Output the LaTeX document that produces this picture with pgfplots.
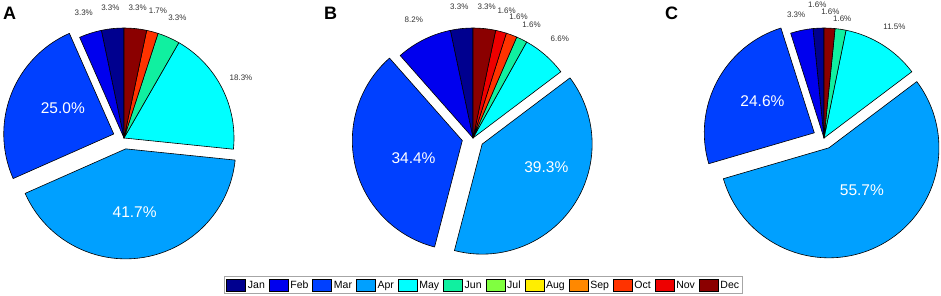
\documentclass[border=0pt]{standalone}
\usepackage{fontspec}
\setmainfont{Liberation Sans}
\usepackage{pgfplots}
\usepackage{pgfplotstable}
\pgfplotsset{compat=1.18}

\definecolor{c1}{HTML}{00008F}
\definecolor{c2}{HTML}{0000EE}
\definecolor{c3}{HTML}{0040FF}
\definecolor{c4}{HTML}{00A0FF}
\definecolor{c5}{HTML}{00FFFF}
\definecolor{c6}{HTML}{10F0A0}
\definecolor{c7}{HTML}{80FF40}
\definecolor{c8}{HTML}{FFEE00}
\definecolor{c9}{HTML}{FF8800}
\definecolor{c10}{HTML}{FF3300}
\definecolor{c11}{HTML}{EE0000}
\definecolor{c12}{HTML}{8B0000}
\definecolor{labgray}{HTML}{333333}

% val = percentage, m = month (1=Jan ... 12=Dec), ex = exploded,
% lr = label radius (fraction of R), ld = label angle shift, big = label inside
\pgfplotstableread{
val  m  ex lr    ld big
3.3  1  0  1.195 0  0
3.3  2  0  1.195 0  0
25.0 3  1  0.52  -6 1
41.7 4  1  0.58  -1 1
18.3 5  0  1.195 0  0
3.3  6  0  1.195 0  0
1.7  10 0  1.195 0  0
3.3  12 0  1.195 0  0
}\pieA

\pgfplotstableread{
val  m  ex lr    ld big
3.3  1  0  1.2   0  0
8.2  2  0  1.2   0  0
34.4 3  1  0.47  6  1
39.3 4  1  0.62  14 1
6.6  5  0  1.2   0  0
1.6  6  0  1.16  -1 0
1.6  10 0  1.18  0  0
1.6  11 0  1.2   0  0
3.3  12 0  1.2   0  0
}\pieB

\pgfplotstableread{
val  m  ex lr    ld big
1.6  1  0  1.21  0  0
3.3  2  0  1.15  1  0
24.6 3  1  0.55  -3 1
55.7 4  1  0.49  11 1
11.5 5  0  1.2   0  0
1.6  6  0  1.1   0  0
1.6  12 0  1.15  0  0
}\pieC

\newcommand\preppie[3]{%
  \pgfplotstablecreatecol[create col/expr accum={\pgfmathaccuma+\thisrow{val}}{0}]{cum}{#1}%
  \pgfplotstablegetrowsof{#1}%
  \pgfmathtruncatemacro\lastrow{\pgfplotsretval-1}%
  \pgfplotstablegetelem{\lastrow}{cum}\of{#1}%
  \let\pietotal\pgfplotsretval
  \pgfplotstablecreatecol[create col/expr={90+360*(\thisrow{cum}-\thisrow{val})/\pietotal}]{a0}{#1}%
  \pgfplotstablecreatecol[create col/expr={90+360*\thisrow{cum}/\pietotal}]{a1}{#1}%
  \pgfplotstablecreatecol[create col/expr={(\thisrow{a0}+\thisrow{a1})/2}]{am}{#1}%
  \pgfplotstablecreatecol[create col/expr={#2+\thisrow{ex}*11*cos(\thisrow{am})}]{px}{#1}%
  \pgfplotstablecreatecol[create col/expr={#3+\thisrow{ex}*11*sin(\thisrow{am})}]{py}{#1}%
}
\preppie{\pieA}{124}{158}
\preppie{\pieB}{473}{158}
\preppie{\pieC}{824}{158}

\pgfplotsset{
  piestyle/.style={
    scatter, only marks, forget plot,
    mark=*, mark size=0pt, mark options={draw=none,fill=none},
    visualization depends on={\thisrow{a0}\as\aStart},
    visualization depends on={\thisrow{a1}\as\aEnd},
    visualization depends on={\thisrow{am}\as\aMid},
    visualization depends on={\thisrow{lr}\as\lR},
    visualization depends on={\thisrow{ld}\as\lD},
    visualization depends on={\thisrow{val}\as\pVal},
    visualization depends on={\thisrow{m}\as\mIdx},
    visualization depends on={\thisrow{big}\as\bigL},
    scatter/@pre marker code/.code={%
      \pgfmathsetmacro\sa{\aStart}%
      \pgfmathsetmacro\se{\aEnd}%
      \pgfmathsetmacro\sm{\aMid+\lD}%
      \pgfmathsetmacro\rr{\lR*110}%
      \pgfmathtruncatemacro\mi{\mIdx}%
      \pgfmathtruncatemacro\bb{\bigL}%
      \path[fill=c\mi,draw=black,line width=0.6bp,line join=round]
        (0bp,0bp) -- (\sa:110bp) arc[start angle=\sa,end angle=\se,radius=110bp] -- cycle;
      \ifnum\bb=1
        \node[text=white,inner sep=0pt,font=\fontsize{15.5bp}{17bp}\selectfont]
          at (\sm:\rr bp) {\pgfmathprintnumber[fixed,fixed zerofill,precision=1,assume math mode=true]{\pVal}\%};
      \else
        \node[text=labgray,inner sep=0pt,font=\fontsize{8bp}{9bp}\selectfont]
          at (\sm:\rr bp) {\pgfmathprintnumber[fixed,fixed zerofill,precision=1,assume math mode=true]{\pVal}\%};
      \fi
    },
    scatter/@post marker code/.code={},
  }
}

\begin{document}
\begin{tikzpicture}
\begin{axis}[
  scale only axis, width=941bp, height=296bp,
  xmin=0, xmax=941, ymin=0, ymax=296,
  hide axis, clip=false,
  legend columns=12,
  legend image code/.code={\path[#1] (0bp,-6bp) rectangle (19bp,6bp);},
  legend style={at={(0.2380,0.0068)}, anchor=south west,
    draw=gray!70, line width=0.6bp, inner sep=2.2bp,
    font=\fontsize{10.5bp}{12bp}\selectfont,
    nodes={inner sep=0.5bp},
    /tikz/every odd column/.append style={column sep=1.5bp},
    /tikz/every even column/.append style={column sep=3.5bp}},
  legend cell align=left,
]
\addplot[piestyle] table[x=px,y=py]{\pieA};
\addplot[piestyle] table[x=px,y=py]{\pieB};
\addplot[piestyle] table[x=px,y=py]{\pieC};

\addlegendimage{draw=black,line width=0.5bp,fill=c1}\addlegendentry{Jan}
\addlegendimage{draw=black,line width=0.5bp,fill=c2}\addlegendentry{Feb}
\addlegendimage{draw=black,line width=0.5bp,fill=c3}\addlegendentry{Mar}
\addlegendimage{draw=black,line width=0.5bp,fill=c4}\addlegendentry{Apr}
\addlegendimage{draw=black,line width=0.5bp,fill=c5}\addlegendentry{May}
\addlegendimage{draw=black,line width=0.5bp,fill=c6}\addlegendentry{Jun}
\addlegendimage{draw=black,line width=0.5bp,fill=c7}\addlegendentry{Jul}
\addlegendimage{draw=black,line width=0.5bp,fill=c8}\addlegendentry{Aug}
\addlegendimage{draw=black,line width=0.5bp,fill=c9}\addlegendentry{Sep}
\addlegendimage{draw=black,line width=0.5bp,fill=c10}\addlegendentry{Oct}
\addlegendimage{draw=black,line width=0.5bp,fill=c11}\addlegendentry{Nov}
\addlegendimage{draw=black,line width=0.5bp,fill=c12}\addlegendentry{Dec}

\node[font=\bfseries\fontsize{18bp}{18bp}\selectfont, anchor=base west, inner sep=0pt] at (axis cs:3,276) {A};
\node[font=\bfseries\fontsize{18bp}{18bp}\selectfont, anchor=base west, inner sep=0pt] at (axis cs:324,276) {B};
\node[font=\bfseries\fontsize{18bp}{18bp}\selectfont, anchor=base west, inner sep=0pt] at (axis cs:665,276) {C};
\end{axis}
\pgfresetboundingbox
\path[use as bounding box] (current axis.south west) rectangle (current axis.north east);
\end{tikzpicture}
\end{document}
